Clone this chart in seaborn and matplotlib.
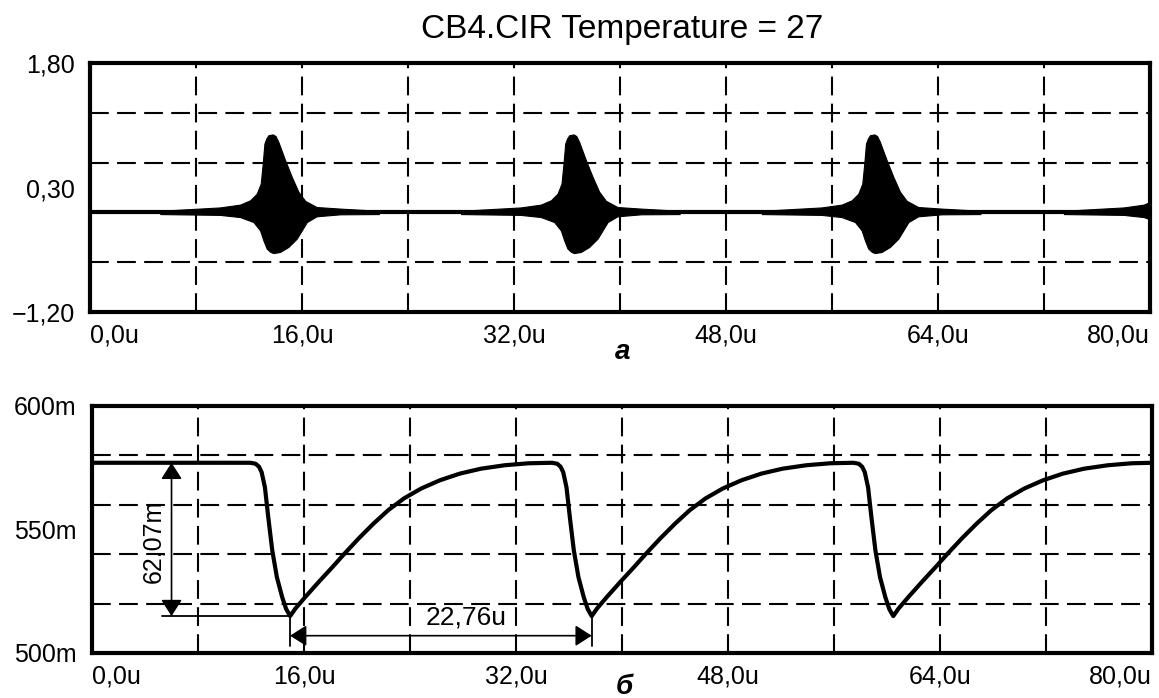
import matplotlib
matplotlib.use('Agg')
import pandas as pd
import seaborn as sns
from matplotlib import pyplot as plt

title = 'CB4.CIR Temperature = 27'

# shared time axis (microseconds)
x_ticks = [0, 16, 32, 48, 64, 80]
x_labels = ['0,0u', '16,0u', '32,0u', '48,0u', '64,0u', '80,0u']
x_grid = [8, 16, 24, 32, 40, 48, 56, 64, 72]

# panel a (volts)
a_ticks = [-1.2, 0.3, 1.8]
a_labels = ['\u22121,20', '0,30', '1,80']
a_grid = [-0.6, 0.0, 0.6, 1.2]
burst_peaks = [13.8, 36.5, 59.2, 82.0]
# envelope of one burst, time relative to its peak
burst_dt_up = [-8.5, -4.0, -2.48, -1.72, -1.22, -0.92, -0.77, -0.64, -0.5, -0.34,
               -0.01, 0.2, 0.41, 0.92, 1.42, 1.92, 2.43, 3.3, 5.07, 8.0]
burst_up = [0.02, 0.06, 0.094, 0.146, 0.226, 0.347, 0.588, 0.83, 0.89, 0.93,
            0.94, 0.92, 0.85, 0.63, 0.43, 0.25, 0.14, 0.065, 0.046, 0.02]
burst_dt_lo = [-8.5, -4.0, -2.48, -1.47, -0.97, -0.72, -0.47, -0.2, 0.03, 0.53,
               1.16, 1.8, 2.18, 2.56, 3.3, 5.07, 8.0]
burst_lo = [-0.02, -0.03, -0.056, -0.116, -0.216, -0.336, -0.436, -0.475, -0.49, -0.477,
            -0.417, -0.316, -0.216, -0.116, -0.047, -0.023, -0.02]
baseline_t = [0, 80]
baseline_v = [0.0, 0.0]

# panel b (millivolts)
b_ticks = [500, 550, 600]
b_labels = ['500m', '550m', '600m']
b_grid = [520, 540, 560, 580]
high_level = 577.0
swing = 62.07
dip_times = [14.95, 37.71, 60.47]
period = 22.76
# one cycle, time relative to the dip
drop_dt = [-3.0, -2.6, -2.35, -2.15, -1.9, -1.65, -1.35, -1.0, -0.6, -0.3, 0.0]
drop_v = [577.0, 576.6, 575.4, 573.2, 567.0, 555.0, 541.6, 530.7, 522.6, 517.8, 514.93]
rise_dt = [0.4, 1.15, 2.2, 3.2, 4.1, 5.2, 6.3, 7.4, 8.6, 9.9, 11.3, 12.8, 14.4, 16.2, 18.0]
rise_v = [518.0, 522.7, 529.0, 534.8, 540.2, 546.5, 552.4, 557.8, 562.6, 566.6, 569.9, 572.6, 574.6, 576.0, 576.8]

t = [0.0]
v = [high_level]
for d in dip_times:
    t += [d + x for x in drop_dt] + [d + x for x in rise_dt]
    v += drop_v + rise_v
t.append(80.0)
v.append(high_level)
df_b = pd.DataFrame({'t': t, 'v': v})

sns.set_style('white')
plt.rcParams['font.family'] = ['Liberation Sans', 'DejaVu Sans']
plt.rcParams.update({'text.color': 'black', 'xtick.color': 'black', 'ytick.color': 'black'})

fig = plt.figure(figsize=(11.59, 6.98), dpi=100)
ax1 = fig.add_axes([0.0777, 0.553, 0.9146, 0.3567])
ax2 = fig.add_axes([0.0794, 0.0645, 0.9146, 0.3539])

dash = (0, (9, 4))

# --- panel a
for g in x_grid:
    ax1.axvline(g, color='black', lw=1.5, ls=dash, zorder=1)
for g in a_grid:
    ax1.axhline(g, color='black', lw=1.5, ls=dash, zorder=1)
for c in burst_peaks:
    ax1.fill_between([c + d for d in burst_dt_up], 0, burst_up, color='black', lw=0.8, zorder=3)
    ax1.fill_between([c + d for d in burst_dt_lo], burst_lo, 0, color='black', lw=0.8, zorder=3)
sns.lineplot(x=baseline_t, y=baseline_v, ax=ax1, color='black', linewidth=3, zorder=4)
ax1.set_xlim(0, 80)
ax1.set_ylim(-1.2, 1.8)
ax1.set_yticks(a_ticks)
ax1.set_yticklabels(a_labels)

# --- panel b
for g in x_grid:
    ax2.axvline(g, color='black', lw=1.5, ls=dash, zorder=1)
for g in b_grid:
    ax2.axhline(g, color='black', lw=1.5, ls=dash, zorder=1)
sns.lineplot(data=df_b, x='t', y='v', ax=ax2, color='black', linewidth=3,
             estimator=None, zorder=4)
ax2.set_xlim(0, 80)
ax2.set_ylim(500, 600)
ax2.set_yticks(b_ticks)
ax2.set_yticklabels(b_labels)

# measurement markers
low_level = high_level - swing
arrow = dict(arrowstyle='<|-|>,head_length=0.5,head_width=0.32', color='black',
             lw=1.2, mutation_scale=20, shrinkA=0, shrinkB=0)
ax2.annotate('', xy=(6.0, low_level), xytext=(6.0, high_level), arrowprops=arrow, zorder=5)
ax2.plot([5.3, dip_times[0]], [low_level, low_level], color='black', lw=1.3, zorder=5)
ax2.text(4.65, 545, '62,07m', rotation=90, ha='center', va='center', fontsize=18, zorder=5)
ax2.annotate('', xy=(dip_times[0], 507), xytext=(dip_times[0] + period, 507),
             arrowprops=arrow, zorder=5)
for d in dip_times[:2]:
    ax2.plot([d, d], [low_level, 503], color='black', lw=1.3, zorder=5)
ax2.text(28.2, 514.5, '22,76u', ha='center', va='center', fontsize=19, zorder=5)

for ax in (ax1, ax2):
    ax.set_xlabel('')
    ax.set_ylabel('')
    ax.set_xticks(x_ticks)
    ax.set_xticklabels(x_labels)
    ax.tick_params(axis='both', length=0, labelsize=18, colors='black')
    ax.tick_params(axis='x', pad=8)
    ax.tick_params(axis='y', pad=11)
    labels = ax.get_xticklabels()
    labels[0].set_ha('left')
    labels[-1].set_ha('right')
    for s in ax.spines.values():
        s.set_visible(True)
        s.set_color('black')
        s.set_linewidth(3)
        s.set_zorder(6)

fig.text(0.537, 0.958, title, ha='center', va='center', fontsize=24)
fig.text(0.537, 0.495, '\u0430', ha='center', va='center', fontsize=20,
         style='italic', weight='bold')
fig.text(0.539, 0.016, '\u0431', ha='center', va='center', fontsize=20,
         style='italic', weight='bold')

fig.savefig('out.png', dpi=100, facecolor='white')
